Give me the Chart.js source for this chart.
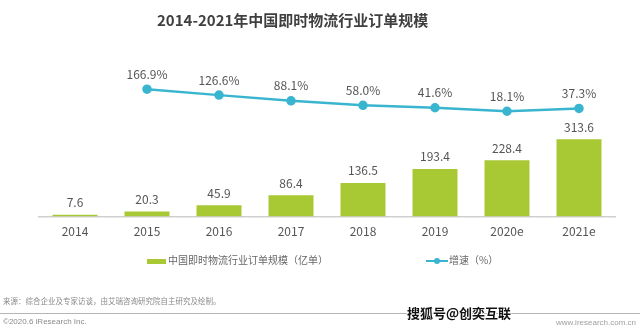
<!DOCTYPE html>
<html>
<head>
<meta charset="utf-8">
<script src="https://cdn.jsdelivr.net/npm/chart.js@4/dist/chart.umd.min.js"></script>
<style>
    body { margin: 0; background: #fff; font-family: "Noto Sans CJK SC", "Noto Sans", sans-serif; }
    #wrap { position: relative; width: 640px; height: 331px; overflow: hidden; }
    #orderChart { position: absolute; left: 0; top: 0; }
    .title { position: absolute; left: 157px; top: 9px; font-size: 15px; font-weight: 700; color: #3f3f3f; white-space: nowrap; }
    .legend { position: absolute; top: 251px; font-size: 10px; color: #666; white-space: nowrap; line-height: 18px; }
    .legend .box { display: inline-block; width: 19px; height: 5px; background: #a9c934; vertical-align: middle; margin-right: 2px; }
    .legend .ln { display: inline-block; position: relative; width: 22px; height: 2px; background: #3ab5d0; vertical-align: middle; margin-right: 1px; }
    .legend .ln::after { content: ''; position: absolute; left: 8px; top: -2px; width: 6px; height: 6px; border-radius: 50%; background: #3ab5d0; }
    .src { position: absolute; left: 3px; top: 295px; font-size: 7.5px; color: #8a8a8a; white-space: nowrap; }
    .rule { position: absolute; left: 0; top: 313px; width: 640px; height: 1px; background: #b5b5b5; }
    .copy { position: absolute; left: 3px; top: 317px; font-size: 8px; color: #8a8a8a; white-space: nowrap; font-family: "Liberation Sans", Arial, sans-serif; }
    .site { position: absolute; left: 556px; top: 318px; font-size: 8px; color: #a0a0a0; white-space: nowrap; font-family: "Liberation Sans", Arial, sans-serif; }
    .mark { position: absolute; left: 407px; top: 303px; font-size: 13px; font-weight: 700; color: #111; white-space: nowrap;
            text-shadow: -1px 0 #fff, 1px 0 #fff, 0 -1px #fff, 0 1px #fff; }
</style>
</head>
<body>
<div id="wrap">
    <canvas id="orderChart" width="640" height="331"></canvas>
    <div class="title">2014-2021年中国即时物流行业订单规模</div>
    <div class="legend" style="left:147px"><span class="box"></span>中国即时物流行业订单规模（亿单）</div>
    <div class="legend" style="left:426px"><span class="ln"></span>增速（%）</div>
    <div class="src">来源：综合企业及专家访谈，由艾瑞咨询研究院自主研究及绘制。</div>
    <div class="rule"></div>
    <div class="copy">©2020.6 iResearch Inc.</div>
    <div class="site">www.iresearch.com.cn</div>
    <div class="mark">搜狐号@创奕互联</div>
</div>
<script>
const years = ['2014', '2015', '2016', '2017', '2018', '2019', '2020e', '2021e'];
const orders = [7.6, 20.3, 45.9, 86.4, 136.5, 193.4, 228.4, 313.6];   // 亿单
const growth = [null, 166.9, 126.6, 88.1, 58.0, 41.6, 18.1, 37.3];    // %

const GREEN = '#a9c934';
const CYAN = '#3ab5d0';

// value labels above bars and line points
const valueLabels = {
    id: 'valueLabels',
    afterDatasetsDraw(chart) {
        const ctx = chart.ctx;
        ctx.save();
        ctx.font = '12px "Noto Sans CJK SC", "Noto Sans", sans-serif';
        ctx.fillStyle = '#555';
        ctx.textAlign = 'center';
        ctx.textBaseline = 'middle';
        chart.getDatasetMeta(0).data.forEach((bar, i) => {
            ctx.fillText(orders[i].toFixed(1), bar.x, bar.y - 12);
        });
        chart.getDatasetMeta(1).data.forEach((pt, i) => {
            if (growth[i] === null) return;
            ctx.fillText(growth[i].toFixed(1) + '%', pt.x, pt.y - 15);
        });
        ctx.restore();
    }
};

new Chart(document.getElementById('orderChart').getContext('2d'), {
    data: {
        labels: years,
        datasets: [{
            type: 'bar',
            data: orders,
            backgroundColor: GREEN,
            barPercentage: 0.625,
            categoryPercentage: 1,
            yAxisID: 'y',
            order: 2
        }, {
            type: 'line',
            data: growth,
            borderColor: CYAN,
            backgroundColor: CYAN,
            borderWidth: 2.5,
            pointRadius: 3.5,
            pointHoverRadius: 3.5,
            tension: 0,
            yAxisID: 'y1',
            order: 1
        }]
    },
    options: {
        responsive: false,
        animation: false,
        layout: { padding: { left: 39, right: 25, top: 60, bottom: 92 } },
        plugins: { legend: { display: false }, tooltip: { enabled: false } },
        scales: {
            x: {
                grid: { display: false },
                border: { display: true, color: '#cfcfcf', width: 1.5 },
                ticks: {
                    color: '#555',
                    padding: 0,
                    font: { size: 12, family: '"Noto Sans CJK SC", "Noto Sans", sans-serif' }
                }
            },
            y: { display: false, min: 0, max: 635 },
            y1: { display: false, min: -691, max: 363 }
        }
    },
    plugins: [valueLabels]
});
</script>
</body>
</html>
